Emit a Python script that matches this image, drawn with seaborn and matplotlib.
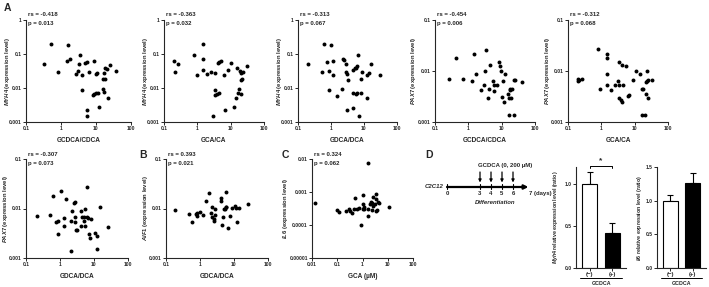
import numpy as np
import pandas as pd
import matplotlib
matplotlib.use("Agg")
import matplotlib.pyplot as plt
import seaborn as sns
from matplotlib.ticker import FixedLocator, NullLocator
import matplotlib.transforms as mtransforms

# ---------------- data ----------------
a1_x = [0.52,0.32,0.80,1.61,1.79,1.44,3.53,3.37,4.8,5.7,3.1,2.67,4.1,6.5,9.0,10.0,10.5,15.6,18.6,21.3,25.3,17.0,18.6,36.6,3.9,8.3,9.0,10.0,11.7,16.3,17.0,21.7,5.5,5.6,12.5]
a1_y = [0.20,0.052,0.030,0.188,0.071,0.064,0.094,0.052,0.056,0.060,0.032,0.025,0.024,0.030,0.062,0.026,0.028,0.018,0.038,0.036,0.046,0.027,0.019,0.031,0.0089,0.0062,0.0065,0.0070,0.0072,0.0092,0.0078,0.0050,0.0022,0.0015,0.0027]

a2_x = [0.206,0.26,0.21,0.78,0.98,1.47,1.5,1.53,1.97,2.5,3.5,4.15,4.6,5.1,6.3,8.35,10.0,15.7,18.9,20.5,23.0,21.0,22.5,30.0,3.5,3.3,3.9,4.5,18.0,16.7,20.5,14.9,13.0,6.6,3.0]
a2_y = [0.064,0.051,0.030,0.094,0.024,0.196,0.071,0.034,0.025,0.030,0.027,0.053,0.058,0.062,0.024,0.035,0.053,0.038,0.031,0.027,0.029,0.017,0.019,0.045,0.0087,0.0062,0.0065,0.0070,0.0092,0.0070,0.0067,0.0050,0.0027,0.0022,0.0015]

a3_x = [0.196,0.52,0.63,0.74,0.87,1.0,1.13,1.17,0.85,1.55,2.3,2.5,2.8,2.8,3.1,3.2,2.1,3.1,4.6,6.4,6.3,5.6,4.5,5.2,8.7,8.3,12.4,14.0,16.0,30.0,4.5,5.8,6.3,8.1,12.4,6.9]
a3_y = [0.050,0.030,0.197,0.058,0.032,0.188,0.024,0.063,0.0089,0.0060,0.071,0.065,0.051,0.030,0.026,0.017,0.0096,0.0022,0.0026,0.094,0.045,0.040,0.035,0.038,0.030,0.019,0.024,0.027,0.052,0.024,0.0072,0.0065,0.0070,0.0070,0.0050,0.0015]

a4_x = [0.26,0.44,0.69,1.3,1.51,1.7,2.4,3.0,3.24,3.5,4.1,3.8,4.6,5.5,5.75,6.0,7.2,8.3,9.1,9.8,10.2,11.0,12.0,12.9,15.5,16.6,17.4,18.2,19.0,20.4,23.4,26.0,40.0,16.6,23.0]
a4_y = [0.0069,0.018,0.0071,0.0063,0.022,0.0087,0.0042,0.0053,0.010,0.026,0.0044,0.0030,0.013,0.0064,0.0052,0.0041,0.0052,0.015,0.0123,0.0098,0.0031,0.0065,0.0025,0.0086,0.0035,0.0029,0.0042,0.0044,0.0030,0.0044,0.0066,0.0066,0.0060,0.0014,0.0014]

a5_x = [0.2,0.2,0.21,0.26,0.79,1.44,1.44,1.48,0.93,1.5,2.0,2.6,3.2,3.4,4.2,5.5,3.5,4.6,3.5,3.8,4.3,6.5,6.8,9.0,11.0,14.5,16.6,17.8,22.9,21.4,23.4,25.0,32.0,22.4,24.5,17.0,20.0]
a5_y = [0.0069,0.0064,0.0067,0.0069,0.027,0.022,0.018,0.0089,0.0044,0.0053,0.0042,0.0052,0.0064,0.015,0.013,0.0123,0.0052,0.0052,0.0030,0.0027,0.0025,0.0032,0.0034,0.0066,0.010,0.0089,0.0045,0.0045,0.010,0.0060,0.0064,0.0066,0.0066,0.0035,0.0030,0.0014,0.0014]

a6_x = [0.21,0.52,0.64,0.75,0.86,0.86,1.1,1.27,1.27,1.53,2.05,2.2,2.05,2.5,2.8,2.8,2.7,3.0,3.2,4.2,4.4,4.1,5.0,5.3,5.1,5.6,6.1,6.2,6.6,7.2,7.5,8.4,10.8,12.5,15.0,12.0,26.0]
a6_y = [0.0071,0.0073,0.018,0.0053,0.0055,0.0031,0.023,0.0064,0.0045,0.0153,0.0055,0.0091,0.0014,0.013,0.0135,0.0066,0.0053,0.0037,0.0036,0.0090,0.0067,0.0045,0.0067,0.0045,0.0055,0.010,0.0268,0.0067,0.0065,0.0031,0.0025,0.0062,0.0032,0.0028,0.0105,0.0015,0.0043]

b_x = [0.19,0.48,0.58,0.76,0.84,0.83,1.02,1.25,1.47,1.9,2.2,2.1,2.3,2.55,2.7,2.8,2.65,4.1,4.2,4.3,4.8,5.0,5.4,5.7,6.0,5.8,6.8,7.8,9.0,10.8,11.3,12.3,14.0,25.0]
b_y = [0.0093,0.0079,0.0053,0.0079,0.0072,0.0080,0.0086,0.0073,0.0144,0.0205,0.0105,0.0080,0.0066,0.0060,0.0074,0.0098,0.0056,0.0165,0.0144,0.0046,0.0067,0.0097,0.0100,0.0106,0.0106,0.0220,0.0040,0.0069,0.0101,0.0110,0.0103,0.0054,0.0103,0.0123]

c_x = [0.0135,0.098,0.12,0.23,0.30,0.31,0.40,0.47,0.63,0.49,0.75,1.03,1.05,1.1,1.07,1.2,0.86,1.6,1.6,1.6,1.9,2.1,2.3,2.4,2.7,2.7,3.1,3.4,3.5,3.5,3.8,4.2,4.4,11.0]
c_y = [0.00046,0.00028,0.00025,0.00026,0.00030,0.00026,0.00023,0.00030,0.00030,0.00068,0.00033,0.00043,0.00081,0.00035,0.00030,0.00030,0.00010,0.00019,0.0074,0.00030,0.00043,0.00050,0.00048,0.00029,0.00072,0.00038,0.00044,0.00060,0.00085,0.00026,0.00029,0.00049,0.00048,0.00035]

stats_rs = ["-0.418", "-0.363", "-0.313", "-0.454", "-0.312", "-0.307", "0.393", "0.324"]
stats_p = ["0.013", "0.032", "0.067", "0.006", "0.068", "0.073", "0.021", "0.062"]
genes = ["MYH4", "MYH4", "MYH4", "PAX7", "PAX7", "PAX7", "AIF1", "IL6"]
xlabels = ["GCDCA/CDCA", "GCA/CA", "GDCA/DCA", "GCDCA/CDCA", "GCA/CA", "GDCA/DCA", "GDCA/DCA", "GCA (µM)"]

xt_ratio = [0.1, 1, 10, 100]
xt_ratio_lbl = ["0.1", "1", "10", "100"]
xt_gca = [0.01, 0.1, 1, 10, 100]
xt_gca_lbl = ["0.01", "0.1", "1", "10", "100"]
yt_myh4 = [0.001, 0.01, 0.1, 1]
yt_myh4_lbl = ["0.001", "0.01", "0.1", "1"]
yt_pax7 = [0.001, 0.01, 0.1]
yt_pax7_lbl = ["0.001", "0.01", "0.1"]
yt_il6 = [0.00001, 0.0001, 0.001, 0.01]
yt_il6_lbl = ["0.00001", "0.0001", "0.001", "0.01"]

# panel D
days = [0, 3, 4, 5, 6]
treat_days = [3, 4, 5, 6]
groups = ["(−)", "(+)"]
myh4_ratio = [1.0, 0.42]
myh4_err = [0.14, 0.12]
il6_ratio = [1.0, 1.26]
il6_err = [0.09, 0.15]
myh4_yt = [0.0, 0.5, 1.0]
il6_yt = [0.0, 0.5, 1.0, 1.5]

# ---------------- style ----------------
sns.set_style("ticks")
plt.rcParams["font.family"] = ["Liberation Sans", "DejaVu Sans"]
plt.rcParams["font.weight"] = "bold"
plt.rcParams["mathtext.fontset"] = "custom"
plt.rcParams["mathtext.it"] = "Liberation Sans:italic:bold"
plt.rcParams["mathtext.rm"] = "Liberation Sans:bold"
plt.rcParams["axes.linewidth"] = 0.8

W, H = 709, 287
fig = plt.figure(figsize=(W / 100, H / 100), dpi=100)
fig.patch.set_facecolor("white")

TICK_FS = 3.6
LBL_FS = 4.2
XLBL_FS = 4.7
ST_FS = 4.3


def px_axes(l, t, r, b):
    return fig.add_axes([l / W, 1 - b / H, (r - l) / W, (b - t) / H])


def ftext(x, y, s, **kw):
    kw.setdefault("ha", "center")
    kw.setdefault("va", "center")
    kw.setdefault("fontweight", "bold")
    return fig.text(x / W, 1 - y / H, s, **kw)


def style_axes(ax):
    sns.despine(ax=ax)
    ax.tick_params(axis="both", which="major", length=2, width=0.7, pad=1,
                   labelsize=TICK_FS, direction="out")
    for lab in ax.get_xticklabels() + ax.get_yticklabels():
        lab.set_fontweight("bold")


def scatter_panel(rect, x, y, xt, xtl, yt, ytl, i, ylab_x, xlab_y):
    l, t, r, b = rect
    ax = px_axes(l, t, r, b)
    df = pd.DataFrame({"x": x, "y": y})
    sns.scatterplot(data=df, x="x", y="y", ax=ax, color="black", s=8,
                    linewidth=0, legend=False)
    ax.set_xscale("log")
    ax.set_yscale("log")
    ax.set_xlim(xt[0], xt[-1])
    ax.set_ylim(yt[0], yt[-1])
    ax.xaxis.set_major_locator(FixedLocator(xt))
    ax.yaxis.set_major_locator(FixedLocator(yt))
    ax.xaxis.set_minor_locator(NullLocator())
    ax.yaxis.set_minor_locator(NullLocator())
    ax.set_xticklabels(xtl)
    ax.set_yticklabels(ytl)
    ax.set_xlabel("")
    ax.set_ylabel("")
    ax.set_facecolor("none")
    style_axes(ax)
    ftext(ylab_x, (t + b) / 2, r"$\mathit{%s}$ (expression level)" % genes[i],
          rotation=90, fontsize=LBL_FS)
    ftext((l + r) / 2, xlab_y, xlabels[i], fontsize=XLBL_FS)
    ftext(l + 2, t - 5, "rs = " + stats_rs[i], ha="left", fontsize=ST_FS)
    ftext(l + 2, t + 4, "p = " + stats_p[i], ha="left", fontsize=ST_FS)
    return ax


TOP = (20, 122)
BOT = (159, 258)
scatter_panel((26, TOP[0], 131, TOP[1]), a1_x, a1_y, xt_ratio, xt_ratio_lbl, yt_myh4, yt_myh4_lbl, 0, 8, 140)
scatter_panel((164, TOP[0], 264, TOP[1]), a2_x, a2_y, xt_ratio, xt_ratio_lbl, yt_myh4, yt_myh4_lbl, 1, 145, 140)
scatter_panel((298, TOP[0], 397, TOP[1]), a3_x, a3_y, xt_ratio, xt_ratio_lbl, yt_myh4, yt_myh4_lbl, 2, 280, 140)
scatter_panel((435, TOP[0], 535, TOP[1]), a4_x, a4_y, xt_ratio, xt_ratio_lbl, yt_pax7, yt_pax7_lbl, 3, 414, 140)
scatter_panel((568, TOP[0], 668, TOP[1]), a5_x, a5_y, xt_ratio, xt_ratio_lbl, yt_pax7, yt_pax7_lbl, 4, 548, 140)
scatter_panel((26, BOT[0], 128, BOT[1]), a6_x, a6_y, xt_ratio, xt_ratio_lbl, yt_pax7, yt_pax7_lbl, 5, 6, 277)
scatter_panel((166, BOT[0], 268, BOT[1]), b_x, b_y, xt_ratio, xt_ratio_lbl, yt_pax7, yt_pax7_lbl, 6, 146, 277)
scatter_panel((312, BOT[0], 413, BOT[1]), c_x, c_y, xt_gca, xt_gca_lbl, yt_il6, yt_il6_lbl, 7, 286, 277)

# panel letters
for s, (x, y) in zip(["A", "B", "C", "D"], [(7, 8), (143, 155), (285, 155), (429, 155)]):
    ftext(x, y, s, fontsize=7.5)

# ---------------- timeline ----------------
tl, tt, tr, tb = 425, 150, 572, 215
ax_t = px_axes(tl, tt, tr, tb)
ax_t.set_xlim((tl - 447) / 11.0, (tr - 447) / 11.0)
ax_t.set_ylim(tb, tt)
ax_t.axis("off")
ax_t.annotate("", xy=(7.4, 187), xytext=(0, 187),
              arrowprops=dict(arrowstyle="-|>", lw=1.6, color="black",
                              mutation_scale=6, shrinkA=0, shrinkB=0))
for d in days:
    ax_t.plot([d, d], [184.5, 189.5], color="black", lw=0.8)
    ax_t.text(d, 193.5, str(d), ha="center", va="center", fontsize=4.3, fontweight="bold")
ax_t.text(7.45, 193.5, "7 (days)", ha="left", va="center", fontsize=4.3, fontweight="bold")
for d in treat_days:
    ax_t.annotate("", xy=(d, 182.5), xytext=(d, 172),
                  arrowprops=dict(arrowstyle="-|>", lw=0.9, color="black",
                                  mutation_scale=4, shrinkA=0, shrinkB=0))
ax_t.text(5.3, 166, "GCDCA (0, 200 µM)", ha="center", va="center", fontsize=4.3, fontweight="bold")
ax_t.text(4.4, 202, "Differentiation", ha="center", va="center", fontsize=4.3,
          fontweight="bold", style="italic")
ax_t.text(-0.3, 187, "C2C12", ha="right", va="center", fontsize=4.3,
          fontweight="bold", style="italic")


# ---------------- bar charts ----------------
def bar_panel(l, r, top_px, vals, errs, yt, ymax, gene, ylab_x):
    b = 268
    ax = px_axes(l, top_px, r, b)
    df = pd.DataFrame({"g": groups, "v": vals})
    sns.barplot(data=df, x="g", y="v", hue="g", palette=["white", "black"],
                edgecolor="black", linewidth=0.8, width=0.66, legend=False, ax=ax,
                errorbar=None)
    ax.errorbar([0, 1], vals, yerr=[[0, 0], errs], fmt="none", ecolor="black",
                elinewidth=0.8, capsize=2.3, capthick=0.8, zorder=0)
    ax.set_xlim(-0.6, 1.6)
    ax.set_ylim(0, ymax)
    ax.yaxis.set_major_locator(FixedLocator(yt))
    ax.set_yticklabels(["%.1f" % v for v in yt])
    ax.set_xlabel("")
    ax.set_ylabel("")
    ax.set_facecolor("none")
    style_axes(ax)
    ax.tick_params(axis="x", labelsize=4.3)
    trans = mtransforms.blended_transform_factory(ax.transData, ax.transAxes)
    h = b - top_px
    ax.plot([-0.42, 1.42], [-10 / h, -10 / h], transform=trans, color="black",
            lw=0.7, clip_on=False)
    ax.text(0.5, -15.5 / h, "GCDCA", transform=trans, ha="center", va="center",
            fontsize=3.8, fontweight="bold")
    ftext(ylab_x, (top_px + b) / 2,
          r"$\mathit{%s}$ relative expression level (ratio)" % gene,
          rotation=90, fontsize=3.8)
    return ax


axb1 = bar_panel(576, 626, 167, myh4_ratio, myh4_err, myh4_yt, 1.2, "Myh4", 555)
# significance bracket
yb = 1.215
axb1.plot([0, 0, 1, 1], [yb - 0.03, yb, yb, yb - 0.03], color="black", lw=0.7, clip_on=False)
axb1.text(0.5, yb + 0.02, "*", ha="center", va="bottom", fontsize=6, fontweight="bold")

axb2 = bar_panel(657, 706, 167, il6_ratio, il6_err, il6_yt, 1.5, "Il6", 639)

fig.savefig("out.png", dpi=100, facecolor="white")
